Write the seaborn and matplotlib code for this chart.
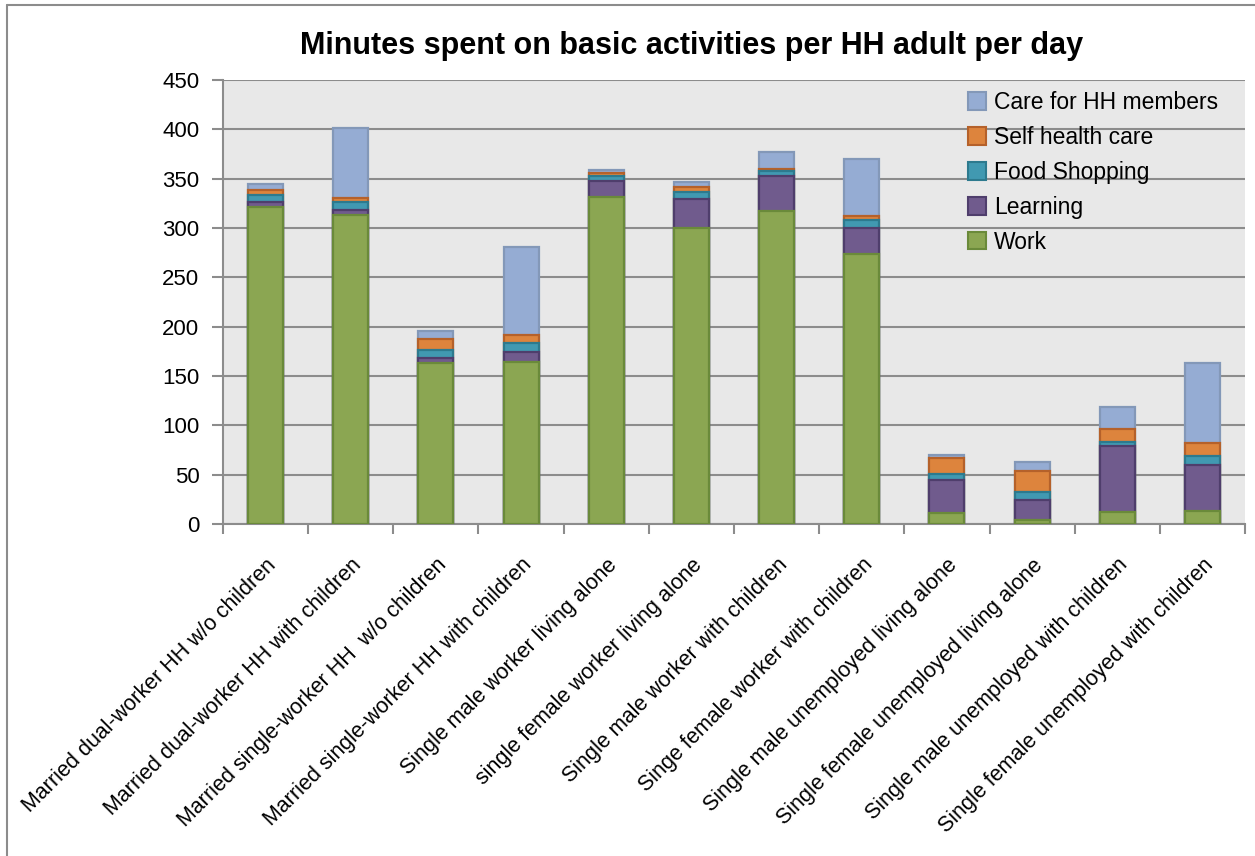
import numpy as np
import pandas as pd
import seaborn as sns
import matplotlib
matplotlib.use("Agg")
import matplotlib.pyplot as plt
from matplotlib import font_manager
from matplotlib.patches import Patch
from matplotlib.lines import Line2D

categories = [
    "Married dual-worker HH w/o children",
    "Married dual-worker HH with children",
    "Married single-worker HH  w/o children",
    "Married single-worker HH with children",
    "Single male worker living alone",
    "single female worker living alone",
    "Single male worker with children",
    "Singe female worker with children",
    "Single male unemployed living alone",
    "Single female unemployed living alone",
    "Single male unemployed with children",
    "Single female unemployed with children",
]

work = [321, 313, 163, 164, 331, 300, 317, 274, 11, 4, 12.5, 13]
learning = [5, 5, 5, 10, 17, 29, 36, 26, 34, 20, 67, 47]
food_shopping = [7, 8, 8, 9, 5, 7, 5, 8, 6, 8, 3.5, 9]
self_health = [6, 4, 11, 9, 3, 6, 2, 4, 16, 22, 13, 13]
care_hh = [6, 71, 9, 89, 3, 5, 17, 58, 3, 9, 23, 81]

series_names = ["Work", "Learning", "Food Shopping", "Self health care", "Care for HH members"]
series_values = [work, learning, food_shopping, self_health, care_hh]
fills = ["#8BA652", "#705B8D", "#4199B1", "#DD843D", "#95ACD3"]
edges = ["#6A8A3A", "#4F3E6C", "#2D7A8E", "#B5612A", "#8398B8"]

y_ticks = [0, 50, 100, 150, 200, 250, 300, 350, 400, 450]

available = {f.name for f in font_manager.fontManager.ttflist}
narrow = "Liberation Sans Narrow" if "Liberation Sans Narrow" in available else "Liberation Sans"
regular = "Liberation Sans"

sns.set_theme(style="white")
plt.rcParams["font.family"] = [narrow, "DejaVu Sans"]
plt.rcParams["text.color"] = "black"

df = pd.DataFrame({"category": categories})
running = np.zeros(len(categories))
cum_cols = []
for name, vals in zip(series_names, series_values):
    running = running + np.array(vals, dtype=float)
    df[name] = running.copy()
    cum_cols.append(name)

W, H = 1255, 856
fig = plt.figure(figsize=(W / 100, H / 100), dpi=100)
ax = fig.add_axes([223 / W, 1 - 524 / H, (1245 - 223) / W, (524 - 80) / H])
ax.set_facecolor("#E8E8E8")

# draw cumulative totals from the top layer down so each segment shows its own slice
for name, fc, ec in reversed(list(zip(cum_cols, fills, edges))):
    sns.barplot(data=df, x="category", y=name, order=categories, color=fc,
                saturation=1, width=0.41, edgecolor=ec, linewidth=1.6, ax=ax, zorder=3)

ax.set_ylim(0, 450)
ax.set_xlim(-0.5, len(categories) - 0.5)
ax.set_yticks(y_ticks)
ax.set_yticklabels([str(v) for v in y_ticks], fontsize=16, family=[narrow])
ax.yaxis.grid(True, color="#8C8C8C", linewidth=1.5, zorder=0)
ax.set_axisbelow(True)
ax.set_xlabel("")
ax.set_ylabel("")

for side in ["top", "right"]:
    ax.spines[side].set_visible(False)
for side in ["left", "bottom"]:
    ax.spines[side].set_color("#8C8C8C")
    ax.spines[side].set_linewidth(1.5)

ax.tick_params(axis="y", which="major", length=8, width=1.5, color="#8C8C8C",
               left=True, pad=9, labelcolor="black")
ax.set_xticks(range(len(categories)))
ax.set_xticklabels(categories, rotation=45, ha="right", rotation_mode="anchor",
                   fontsize=15.5, family=[regular], color="black")
ax.tick_params(axis="x", which="major", length=0, pad=22)
ax.set_xticks(np.arange(len(categories) + 1) - 0.5, minor=True)
ax.tick_params(axis="x", which="minor", length=7, width=1.5, color="#8C8C8C", bottom=True)

fig.text(692 / W, 1 - 46 / H, "Minutes spent on basic activities per HH adult per day",
         fontsize=22, fontweight="bold", family=[narrow], ha="center", va="center",
         color="black")

handles = [Patch(facecolor=fc, edgecolor=ec, linewidth=1.5)
           for fc, ec in zip(fills, edges)]
leg = ax.legend(handles[::-1], series_names[::-1], loc="upper left",
                bbox_to_anchor=((968 - 223) / (1245 - 223), 1 - (91 - 80) / 444),
                frameon=False, fontsize=16.5,
                handlelength=0.8, handleheight=0.8, handletextpad=0.35,
                labelspacing=0.52, borderaxespad=0, borderpad=0)
for t in leg.get_texts():
    t.set_color("black")

# outer chart frame
fig.add_artist(Line2D([7 / W, 7 / W], [0, 1 - 5 / H], transform=fig.transFigure,
                      color="#8C8C8C", linewidth=1.5))
fig.add_artist(Line2D([7 / W, 1], [1 - 5 / H, 1 - 5 / H], transform=fig.transFigure,
                      color="#8C8C8C", linewidth=1.5))

fig.savefig("out.png", dpi=100)
